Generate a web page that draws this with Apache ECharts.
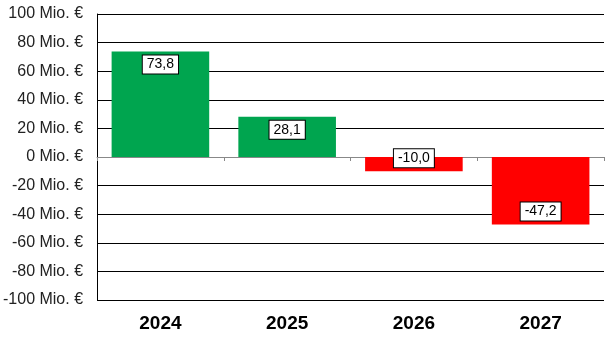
<!DOCTYPE html>
<html>
<head>
<meta charset="utf-8">
<script src="https://cdn.jsdelivr.net/npm/echarts@6/dist/echarts.min.js"></script>
<style>
    html, body { margin: 0; padding: 0; background: #fff; }
    #chart { width: 605px; height: 354px; }
</style>
</head>
<body>
<div id="chart"></div>
<script>
"use strict";
var years = ['2024', '2025', '2026', '2027'];
var values = [73.8, 28.1, -10.0, -47.2];
var green = '#00A54F', red = '#FF0000';

var chart = echarts.init(document.getElementById('chart'));
var barData = values.map(function (v) {
    return {
        value: v,
        itemStyle: { color: v >= 0 ? green : red },
        label: { position: v >= 0 ? 'insideTop' : 'insideBottom' }
    };
});

chart.setOption({
    animation: false,
    grid: { left: 97, right: 1, top: 14, bottom: 54 },
    xAxis: [
        {
            type: 'category',
            data: years,
            axisLine: { show: false, onZero: false },
            axisTick: { show: false },
            axisLabel: {
                color: '#000', fontFamily: 'Liberation Sans', fontWeight: 'bold',
                fontSize: 19, margin: 14
            }
        },
        {
            type: 'category',
            data: years,
            position: 'bottom',
            z: 1,
            axisLine: { onZero: true, lineStyle: { color: '#888', width: 1 } },
            axisTick: { show: true, length: 4, lineStyle: { color: '#888' } },
            axisLabel: { show: false }
        }
    ],
    yAxis: {
        type: 'value',
        z: 0,
        min: -100, max: 100, interval: 20,
        axisLine: { show: true, lineStyle: { color: '#000', width: 1 } },
        axisTick: { show: false },
        splitLine: { lineStyle: { color: '#000', width: 1 } },
        axisLabel: {
            color: '#222', fontFamily: 'Liberation Sans', fontSize: 16, margin: 14,
            verticalAlign: 'middle', lineHeight: 16, padding: [5, 0, 0, 0],
            formatter: '{value} Mio. €'
        }
    },
    series: [{
        type: 'bar',
        z: 2,
        data: barData,
        barCategoryGap: '23%',
        label: {
            show: true,
            distance: 4,
            color: '#000',
            fontFamily: 'Liberation Sans',
            fontSize: 14,
            backgroundColor: '#fff',
            borderColor: '#000',
            borderWidth: 1,
            padding: [2, 4, 2, 4],
            formatter: function (p) { return p.value.toFixed(1).replace('.', ','); }
        }
    }]
});
</script>
</body>
</html>
